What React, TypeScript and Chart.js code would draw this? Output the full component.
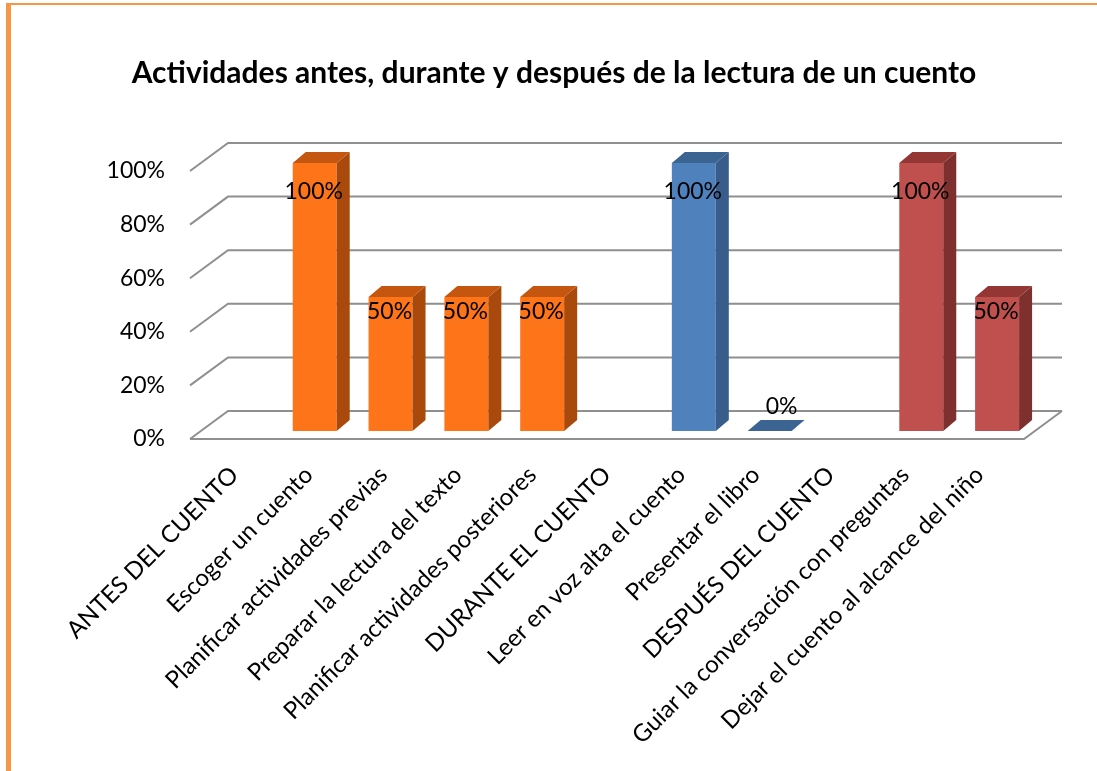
import React, { useEffect, useRef } from "react";
import { Chart, registerables } from "chart.js";

Chart.register(...registerables);

const title = "Actividades antes, durante y después de la lectura de un cuento";

const categories = [
  "ANTES DEL CUENTO",
  "Escoger un cuento",
  "Planificar actividades previas",
  "Preparar la lectura del texto",
  "Planificar actividades posteriores",
  "DURANTE EL CUENTO",
  "Leer en voz alta el cuento",
  "Presentar el libro",
  "DESPUÉS DEL CUENTO",
  "Guiar la conversación con preguntas",
  "Dejar el cuento al alcance del niño",
];

const values: (number | null)[] = [null, 1, 0.5, 0.5, 0.5, null, 1, 0, null, 1, 0.5];

// stage of each category: 0 antes, 1 durante, 2 después
const stages = [0, 0, 0, 0, 0, 1, 1, 1, 2, 2, 2];

const yTicks = [0, 0.2, 0.4, 0.6, 0.8, 1];

const frontColors = ["#FD7518", "#4F81BD", "#C0504D"];
const sideColors = ["#A94A0C", "#385D8A", "#7E302E"];
const topColors = ["#C4560F", "#3C6493", "#933634"];

const FONT = "Lato, 'Open Sans', sans-serif";
const GRID = "#8f8f8f";

// 3D offsets
const BAR_DX = 13;
const BAR_DY = -11;
const BACK_DX = 27;
const BACK_DY = -20;
const FRONT_DX = -11;
const FRONT_DY = 8;

const pct = (v: number) => Math.round(v * 100) + "%";

const threeD = {
  id: "threeD",
  beforeDatasetsDraw(chart: any) {
    const { ctx, chartArea, scales } = chart;
    const y = scales.y;
    ctx.save();
    ctx.strokeStyle = GRID;
    ctx.lineWidth = 2;
    ctx.lineCap = "butt";
    yTicks.forEach((v) => {
      const py = y.getPixelForValue(v);
      ctx.beginPath();
      ctx.moveTo(chartArea.left + FRONT_DX, py + FRONT_DY);
      ctx.lineTo(chartArea.left + BACK_DX, py + BACK_DY);
      ctx.lineTo(chartArea.right + BACK_DX, py + BACK_DY);
      ctx.stroke();
    });
    const p0 = y.getPixelForValue(0);
    ctx.beginPath();
    ctx.moveTo(chartArea.left + FRONT_DX, p0 + FRONT_DY);
    ctx.lineTo(chartArea.right + FRONT_DX, p0 + FRONT_DY);
    ctx.lineTo(chartArea.right + BACK_DX, p0 + BACK_DY);
    ctx.stroke();
    ctx.restore();
  },
  afterDatasetsDraw(chart: any) {
    const { ctx } = chart;
    const meta = chart.getDatasetMeta(0);
    ctx.save();
    meta.data.forEach((el: any, i: number) => {
      const v = values[i];
      if (v === null || v === undefined) return;
      const s = stages[i];
      const l = el.x - el.width / 2;
      const r = el.x + el.width / 2;
      const t = el.y;
      const b = el.base;
      if (b - t > 0.5) {
        ctx.fillStyle = sideColors[s];
        ctx.beginPath();
        ctx.moveTo(r, t);
        ctx.lineTo(r + BAR_DX, t + BAR_DY);
        ctx.lineTo(r + BAR_DX, b + BAR_DY);
        ctx.lineTo(r, b);
        ctx.closePath();
        ctx.fill();
      }
      ctx.fillStyle = topColors[s];
      ctx.beginPath();
      ctx.moveTo(l, t);
      ctx.lineTo(r, t);
      ctx.lineTo(r + BAR_DX, t + BAR_DY);
      ctx.lineTo(l + BAR_DX, t + BAR_DY);
      ctx.closePath();
      ctx.fill();
    });
    ctx.fillStyle = "#000";
    ctx.font = `23px ${FONT}`;
    ctx.textAlign = "center";
    ctx.textBaseline = "middle";
    meta.data.forEach((el: any, i: number) => {
      const v = values[i];
      if (v === null || v === undefined) return;
      if (v > 0) {
        ctx.fillText(pct(v), el.x - 1, el.y + 1 + 28 * v);
      } else {
        ctx.fillText(pct(v), el.x + 12, el.base - 24);
      }
    });
    ctx.restore();
  },
  afterDraw(chart: any) {
    const { ctx, scales, chartArea } = chart;
    const x = scales.x;
    const y = scales.y;
    ctx.save();
    ctx.fillStyle = "#000";
    ctx.font = `23px ${FONT}`;
    ctx.textAlign = "right";
    ctx.textBaseline = "middle";
    yTicks.forEach((v) => {
      ctx.fillText(pct(v), 165, y.getPixelForValue(v) + FRONT_DY);
    });
    const base = y.getPixelForValue(0);
    ctx.font = `24px ${FONT}`;
    categories.forEach((c, i) => {
      const cx = x.getPixelForValue(i);
      const ax = chartArea.left + (cx - chartArea.left) * 0.983 - 4;
      ctx.save();
      ctx.translate(ax, base + 40);
      ctx.rotate(-Math.PI / 4);
      ctx.textAlign = "right";
      ctx.textBaseline = "middle";
      ctx.fillText(c, 0, 0);
      ctx.restore();
    });
    ctx.font = `bold 30px ${FONT}`;
    ctx.textAlign = "center";
    ctx.textBaseline = "alphabetic";
    ctx.fillText(title, 554, 83);
    ctx.restore();
  },
};

export default function App() {
  const ref = useRef<HTMLCanvasElement | null>(null);
  useEffect(() => {
    if (!ref.current) return;
    const chart = new Chart(ref.current, {
      type: "bar",
      data: {
        labels: categories,
        datasets: [
          {
            data: values as any,
            backgroundColor: stages.map((s) => frontColors[s]),
            borderWidth: 0,
            categoryPercentage: 1,
            barPercentage: 0.58,
          },
        ],
      },
      options: {
        responsive: false,
        animation: false,
        layout: { padding: { left: 201, right: 62, top: 163, bottom: 340 } },
        plugins: {
          legend: { display: false },
          title: { display: false },
          tooltip: { enabled: false },
        },
        scales: {
          x: { display: false, offset: true },
          y: { display: false, min: 0, max: 1 },
        },
      },
      plugins: [threeD],
    });
    return () => chart.destroy();
  }, []);
  return (
    <div
      style={{
        position: "fixed",
        left: 0,
        top: 0,
        width: 1097,
        height: 771,
        overflow: "hidden",
        background: "#fff",
      }}
    >
      <div
        style={{
          position: "absolute",
          left: 6,
          top: 3,
          width: 1200,
          height: 900,
          borderLeft: "5px solid #F79646",
          borderTop: "2px solid #F79646",
          boxSizing: "border-box",
        }}
      />
      <canvas
        ref={ref}
        width={1097}
        height={771}
        style={{ position: "absolute", left: 0, top: 0, width: 1097, height: 771 }}
      />
    </div>
  );
}
